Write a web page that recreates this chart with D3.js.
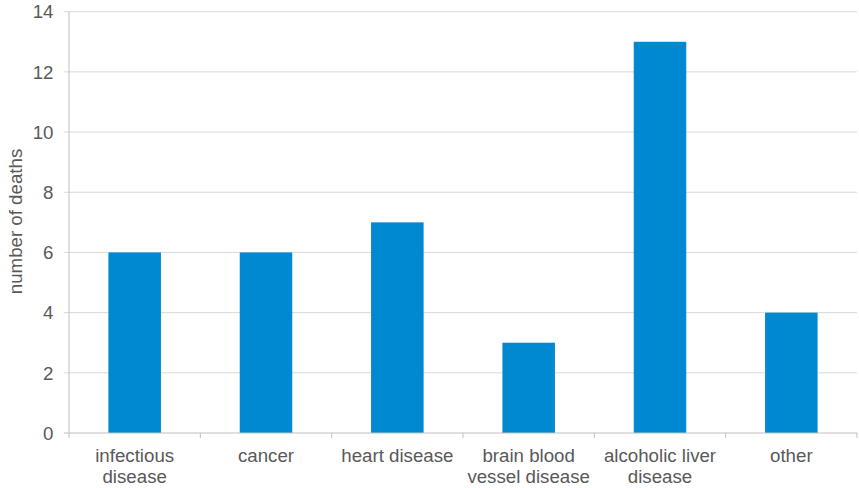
<!DOCTYPE html>
<html><head><meta charset="utf-8">
<script src="https://cdn.jsdelivr.net/npm/d3@7"></script>
<style>body{margin:0;background:#fff}svg{display:block}text{font-family:"Liberation Sans",Arial,sans-serif;fill:#595959}</style>
</head><body>
<svg id="c" width="859" height="488"></svg>
<script>
const categories = [["infectious","disease"],["cancer"],["heart disease"],["brain blood","vessel disease"],["alcoholic liver","disease"],["other"]];
const values = [6, 6, 7, 3, 13, 4];
const yTicks = [0, 2, 4, 6, 8, 10, 12, 14];
const yTitle = "number of deaths";

const svg = d3.select("#c");
const mLeft = 69, mRight = 857, mTop = 11.7, mBottom = 433;
const fs = 18.7;
const keys = categories.map(d => d.join(" "));
const x = d3.scaleBand().domain(keys).range([mLeft, mRight]).paddingInner(0.6).paddingOuter(0.3);
const y = d3.scaleLinear().domain([0, 14]).range([mBottom, mTop]);

// gridlines
svg.append("g").selectAll("line").data(yTicks.filter(t => t > 0)).join("line")
  .attr("x1", mLeft - 5).attr("x2", mRight).attr("y1", d => y(d)).attr("y2", d => y(d))
  .attr("stroke", "#d9d9d9").attr("stroke-width", 1);
svg.append("line").attr("x1", mLeft - 5).attr("x2", mLeft).attr("y1", y(0)).attr("y2", y(0)).attr("stroke", "#bfbfbf");

// bars
svg.append("g").selectAll("rect").data(values).join("rect")
  .attr("x", (d, i) => x(keys[i])).attr("width", x.bandwidth())
  .attr("y", d => y(d)).attr("height", d => y(0) - y(d))
  .attr("fill", "#0089d0");

// axes lines
svg.append("line").attr("x1", mLeft).attr("x2", mLeft).attr("y1", mTop).attr("y2", mBottom).attr("stroke", "#bfbfbf");
svg.append("line").attr("x1", mLeft).attr("x2", mRight).attr("y1", mBottom).attr("y2", mBottom).attr("stroke", "#bfbfbf");
const bounds = d3.range(keys.length + 1).map(i => mLeft + i * (mRight - mLeft) / keys.length);
svg.append("g").selectAll("line").data(bounds).join("line")
  .attr("x1", d => d).attr("x2", d => d).attr("y1", mBottom).attr("y2", mBottom + 5).attr("stroke", "#bfbfbf");

// y labels
svg.append("g").selectAll("text").data(yTicks).join("text")
  .attr("x", 53.5).attr("y", d => y(d)).attr("dy", "0.36em").attr("text-anchor", "end")
  .attr("font-size", fs).text(d => d);

// x labels
const xl = svg.append("g").selectAll("text").data(categories).join("text")
  .attr("text-anchor", "middle").attr("font-size", fs)
  .attr("transform", (d, i) => `translate(${x(keys[i]) + x.bandwidth() / 2},${461.5})`);
xl.selectAll("tspan").data(d => d).join("tspan")
  .attr("x", 0).attr("dy", (d, i) => i === 0 ? 0 : 21.8).text(d => d);

// y title
svg.append("text").attr("transform", `translate(22,${221.5}) rotate(-90)`)
  .attr("text-anchor", "middle").attr("font-size", fs).text(yTitle);
</script>
</body></html>
